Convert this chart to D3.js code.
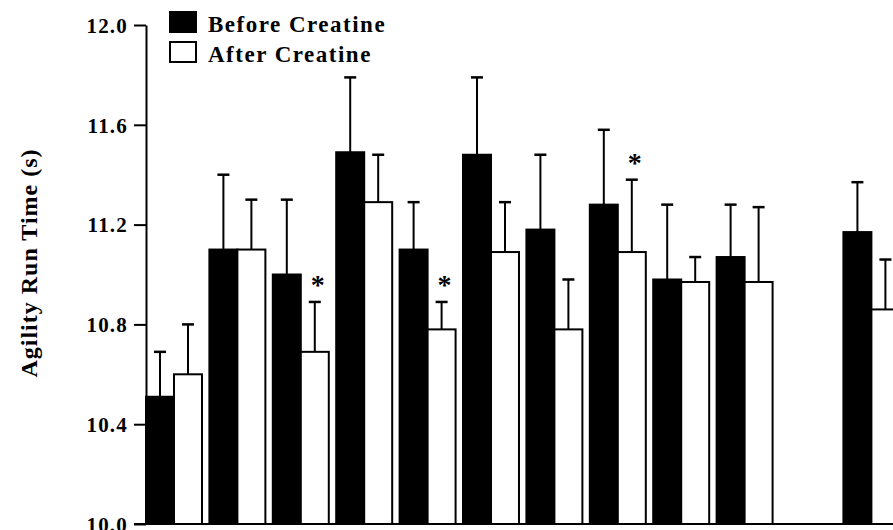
<!DOCTYPE html>
<html>
<head>
<meta charset="utf-8">
<script src="https://cdn.jsdelivr.net/npm/d3@7"></script>
<style>
  body { margin: 0; background: #fff; }
  text { font-family: "Liberation Serif", "Times New Roman", serif; font-weight: bold; fill: #000; }
</style>
</head>
<body>
<script>
// trials along the x axis (slot 11 is empty in the figure)
var categories = ["1", "2", "3", "4", "5", "6", "7", "8", "9", "10", "11", "12"]
var seriesNames = ["Before Creatine", "After Creatine"]

// mean agility run time (s)
var beforeMeans = [10.51, 11.10, 11.00, 11.49, 11.10, 11.48, 11.18, 11.28, 10.98, 11.07, null, 11.17]
var beforeSD    = [0.18, 0.30, 0.30, 0.30, 0.19, 0.31, 0.30, 0.30, 0.30, 0.21, null, 0.20]
var afterMeans  = [10.60, 11.10, 10.69, 11.29, 10.78, 11.09, 10.78, 11.09, 10.97, 10.97, null, 10.86]
var afterSD     = [0.20, 0.20, 0.20, 0.19, 0.11, 0.20, 0.20, 0.29, 0.10, 0.30, null, 0.20]
// * = significant change after creatine
var afterSignif = [false, false, true, false, true, false, false, true, false, false, false, false]

var yTicks = [10.0, 10.4, 10.8, 11.2, 11.6, 12.0]

var width = 893
var height = 530

var svg = d3.select("body")
            .append("svg")
            .attr("width", width)
            .attr("height", height)

// build rows: one per bar
var rows = []
categories.forEach(function(c, i){
  if (beforeMeans[i] != null) {
    rows.push({cat: c, series: seriesNames[0], mean: beforeMeans[i], sd: beforeSD[i], star: false})
  }
  if (afterMeans[i] != null) {
    rows.push({cat: c, series: seriesNames[1], mean: afterMeans[i], sd: afterSD[i], star: afterSignif[i]})
  }
})

var xScale = d3.scaleBand()
               .domain(categories)
               .range([146, 146 + 63.4 * 12 - 7.4])
               .paddingInner(0.117)
               .paddingOuter(0)

var xSub = d3.scaleBand()
             .domain(seriesNames)
             .range([0, xScale.bandwidth()])

var yScale = d3.scaleLinear()
               .domain([10, 12])
               .range([524, 25])

var colour = d3.scaleOrdinal()
               .domain(seriesNames)
               .range(["#000", "#fff"])

// bars
svg.selectAll(".bar")
   .data(rows)
   .enter()
   .append("rect")
   .attr("class", "bar")
   .attr("x", function(d){ return xScale(d.cat) + xSub(d.series) })
   .attr("y", function(d){ return yScale(d.mean) })
   .attr("width", xSub.bandwidth())
   .attr("height", function(d){ return yScale(10) - yScale(d.mean) })
   .attr("fill", function(d){ return colour(d.series) })
   .attr("stroke", "#000")
   .attr("stroke-width", 2)

// error bars (upper only)
var err = svg.selectAll(".err")
             .data(rows)
             .enter()
             .append("g")
             .attr("class", "err")
             .attr("transform", function(d){
               return "translate(" + (xScale(d.cat) + xSub(d.series) + xSub.bandwidth() / 2) + ",0)"
             })

err.append("line")
   .attr("x1", 0).attr("x2", 0)
   .attr("y1", function(d){ return yScale(d.mean) })
   .attr("y2", function(d){ return yScale(d.mean + d.sd) })
   .attr("stroke", "#000")
   .attr("stroke-width", 2)

err.append("line")
   .attr("x1", -6).attr("x2", 6)
   .attr("y1", function(d){ return yScale(d.mean + d.sd) })
   .attr("y2", function(d){ return yScale(d.mean + d.sd) })
   .attr("stroke", "#000")
   .attr("stroke-width", 2.5)

err.filter(function(d){ return d.star })
   .append("text")
   .attr("x", 3)
   .attr("y", function(d){ return yScale(d.mean + d.sd) - 8 })
   .style("text-anchor", "middle")
   .style("font-size", "28px")
   .text("*")

// y axis
var yAxis = d3.axisLeft()
              .scale(yScale)
              .tickValues(yTicks)
              .tickSize(12)
              .tickSizeOuter(0)
              .tickPadding(6)
              .tickFormat(d3.format(".1f"))

var gy = svg.append("g")
            .attr("transform", "translate(146,0)")
            .call(yAxis)
gy.select(".domain").attr("stroke-width", 2)
gy.selectAll(".tick line").attr("stroke-width", 2)
gy.selectAll(".tick text")
  .style("font-size", "21px")
  .style("letter-spacing", "1.2px")
  .attr("dy", "0.35em")

// x axis baseline
svg.append("line")
   .attr("x1", 134).attr("x2", width)
   .attr("y1", yScale(10)).attr("y2", yScale(10))
   .attr("stroke", "#000")
   .attr("stroke-width", 2)

// y label
svg.append("text")
   .attr("transform", "rotate(-90)")
   .attr("x", -263)
   .attr("y", 37)
   .style("text-anchor", "middle")
   .style("font-size", "24px")
   .style("letter-spacing", "1px")
   .text("Agility Run Time (s)")

// legend
var legend = svg.selectAll(".legend")
                .data(seriesNames)
                .enter()
                .append("g")
                .attr("class", "legend")
                .attr("transform", function(d, i){
                  return "translate(170," + (12 + i * 30) + ")"
                })

legend.append("rect")
      .attr("width", 26)
      .attr("height", 20)
      .attr("fill", function(d){ return colour(d) })
      .attr("stroke", "#000")
      .attr("stroke-width", 2)

legend.append("text")
      .attr("x", 38)
      .attr("y", 20)
      .style("font-size", "23px")
      .style("letter-spacing", "1.5px")
      .text(function(d){ return d })
</script>
</body>
</html>
